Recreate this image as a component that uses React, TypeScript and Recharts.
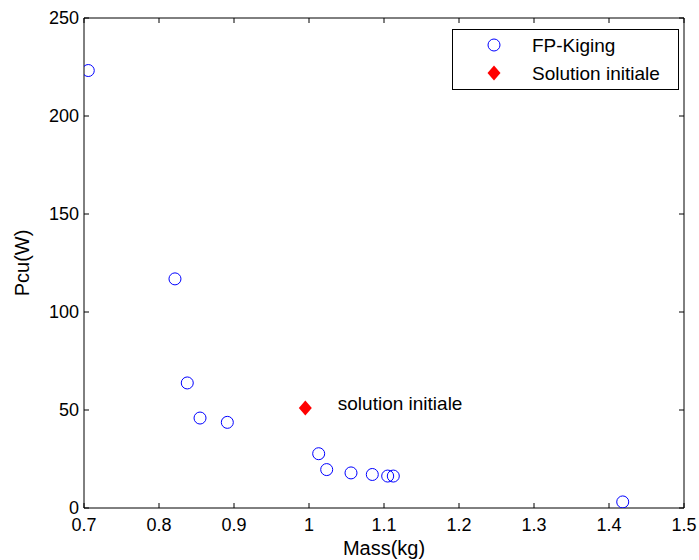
import React from "react";
import { ScatterChart, Scatter, XAxis, YAxis, Label, LabelList } from "recharts";

const massFP = [0.7057, 0.8213, 0.8377, 0.8547, 0.8911, 1.0129, 1.0236, 1.056, 1.0844, 1.1049, 1.1124, 1.4183];
const pcuFP = [223.2, 116.9, 63.8, 45.9, 43.7, 27.7, 19.6, 17.9, 17.1, 16.3, 16.3, 3.1];
const massInit = [0.9951];
const pcuInit = [51.0];
const xTicks = [0.7, 0.8, 0.9, 1, 1.1, 1.2, 1.3, 1.4, 1.5];
const yTicks = [0, 50, 100, 150, 200, 250];
const seriesNames = ["FP-Kiging", "Solution initiale"];
const annotation = "solution initiale";

const fpData = massFP.map((m, i) => ({ mass: m, pcu: pcuFP[i] }));
const initData = massInit.map((m, i) => ({ mass: m, pcu: pcuInit[i], note: annotation }));

const FONT = "'Liberation Sans', Arial, Helvetica, sans-serif";
const TICK_LEN = 5;
const X_MARGIN = 10;
const Y_MARGIN = 5;

const BottomTick = (props: any) => {
  const { x, y, payload } = props;
  const axisY = y - X_MARGIN;
  return (
    <g>
      <line x1={x} x2={x} y1={axisY} y2={axisY - TICK_LEN} stroke="#000" />
      <text x={x} y={y} dy="0.72em" textAnchor="middle" fontSize={18} fontFamily={FONT} fill="#000">
        {String(payload.value)}
      </text>
    </g>
  );
};

const LeftTick = (props: any) => {
  const { x, y, payload } = props;
  const axisX = x + Y_MARGIN;
  return (
    <g>
      <line x1={axisX} x2={axisX + TICK_LEN} y1={y} y2={y} stroke="#000" />
      <text x={x} y={y} dy="0.36em" textAnchor="end" fontSize={18} fontFamily={FONT} fill="#000">
        {String(payload.value)}
      </text>
    </g>
  );
};

const TopTick = (props: any) => {
  const { x, y } = props;
  return <line x1={x} x2={x} y1={y} y2={y + TICK_LEN} stroke="#000" />;
};

const RightTick = (props: any) => {
  const { x, y } = props;
  return <line x1={x} x2={x - TICK_LEN} y1={y} y2={y} stroke="#000" />;
};

const CircleShape = (props: any) => (
  <circle cx={props.cx} cy={props.cy} r={6} fill="none" stroke="#0000ff" strokeWidth={1} />
);

const DiamondShape = (props: any) => {
  const { cx, cy } = props;
  const w = 6.5;
  const h = 7.5;
  return <polygon points={`${cx},${cy - h} ${cx + w},${cy} ${cx},${cy + h} ${cx - w},${cy}`} fill="#ff0000" />;
};

const NoShape = () => <g />;

const NoteLabel = (props: any) => {
  const { x, y, value } = props;
  return (
    <text x={x + 37} y={y} dy={6} fontSize={19} fontFamily={FONT} fill="#000">
      {value}
    </text>
  );
};

const LegendBox = () => (
  <div
    style={{
      position: "absolute",
      left: 452,
      top: 29,
      width: 227,
      height: 61,
      border: "1px solid #000",
      background: "#fff",
      fontFamily: FONT,
      fontSize: 19,
      boxSizing: "border-box",
    }}
  >
    <svg width={227} height={61} style={{ position: "absolute", left: -1, top: -1 }}>
      <circle cx={42} cy={16} r={6} fill="none" stroke="#0000ff" />
      <polygon points="42,36.5 48.5,44 42,51.5 35.5,44" fill="#ff0000" />
      <text x={80} y={16} dy="0.36em" fontSize={19} fontFamily={FONT} fill="#000">{seriesNames[0]}</text>
      <text x={80} y={44} dy="0.36em" fontSize={19} fontFamily={FONT} fill="#000">{seriesNames[1]}</text>
    </svg>
  </div>
);

export default function App() {
  return (
    <div style={{ position: "absolute", left: 0, top: 0, width: 699, height: 560, background: "#fff" }}>
      <ScatterChart width={699} height={560} margin={{ top: 17, right: 14, bottom: 0, left: 0 }}>
        <XAxis
          xAxisId="b"
          dataKey="mass"
          type="number"
          domain={[0.7, 1.5]}
          ticks={xTicks}
          orientation="bottom"
          height={52}
          tickSize={0}
          tickMargin={X_MARGIN}
          tick={<BottomTick />}
          axisLine={{ stroke: "#000" }}
          allowDataOverflow
        >
          <Label
            content={(p: any) => {
              const vb = p.viewBox;
              return (
                <text x={vb.x + vb.width / 2} y={vb.y + 47} textAnchor="middle" fontSize={20} fontFamily={FONT} fill="#000">
                  Mass(kg)
                </text>
              );
            }}
          />
        </XAxis>
        <XAxis
          xAxisId="t"
          dataKey="mass"
          type="number"
          domain={[0.7, 1.5]}
          ticks={xTicks}
          orientation="top"
          height={1}
          tickSize={0}
          tickMargin={0}
          tick={<TopTick />}
          axisLine={{ stroke: "#000" }}
          allowDataOverflow
        />
        <YAxis
          yAxisId="l"
          dataKey="pcu"
          type="number"
          domain={[0, 250]}
          ticks={yTicks}
          orientation="left"
          width={84}
          tickSize={0}
          tickMargin={Y_MARGIN}
          tick={<LeftTick />}
          axisLine={{ stroke: "#000" }}
          allowDataOverflow
        >
          <Label
            content={(p: any) => {
              const vb = p.viewBox;
              const cx = vb.x + 29;
              const cy = vb.y + vb.height / 2;
              return (
                <text x={cx} y={cy} transform={`rotate(-90 ${cx} ${cy})`} textAnchor="middle" fontSize={20} fontFamily={FONT} fill="#000">
                  Pcu(W)
                </text>
              );
            }}
          />
        </YAxis>
        <YAxis
          yAxisId="r"
          dataKey="pcu"
          type="number"
          domain={[0, 250]}
          ticks={yTicks}
          orientation="right"
          width={1}
          tickSize={0}
          tickMargin={0}
          tick={<RightTick />}
          axisLine={{ stroke: "#000" }}
          allowDataOverflow
        />
        <Scatter xAxisId="t" yAxisId="r" data={fpData} shape={<NoShape />} isAnimationActive={false} legendType="none" />
        <Scatter xAxisId="b" yAxisId="l" name={seriesNames[0]} data={fpData} shape={<CircleShape />} isAnimationActive={false} />
        <Scatter xAxisId="b" yAxisId="l" name={seriesNames[1]} data={initData} shape={<DiamondShape />} isAnimationActive={false}>
          <LabelList dataKey="note" content={<NoteLabel />} />
        </Scatter>
      </ScatterChart>
      <LegendBox />
    </div>
  );
}
